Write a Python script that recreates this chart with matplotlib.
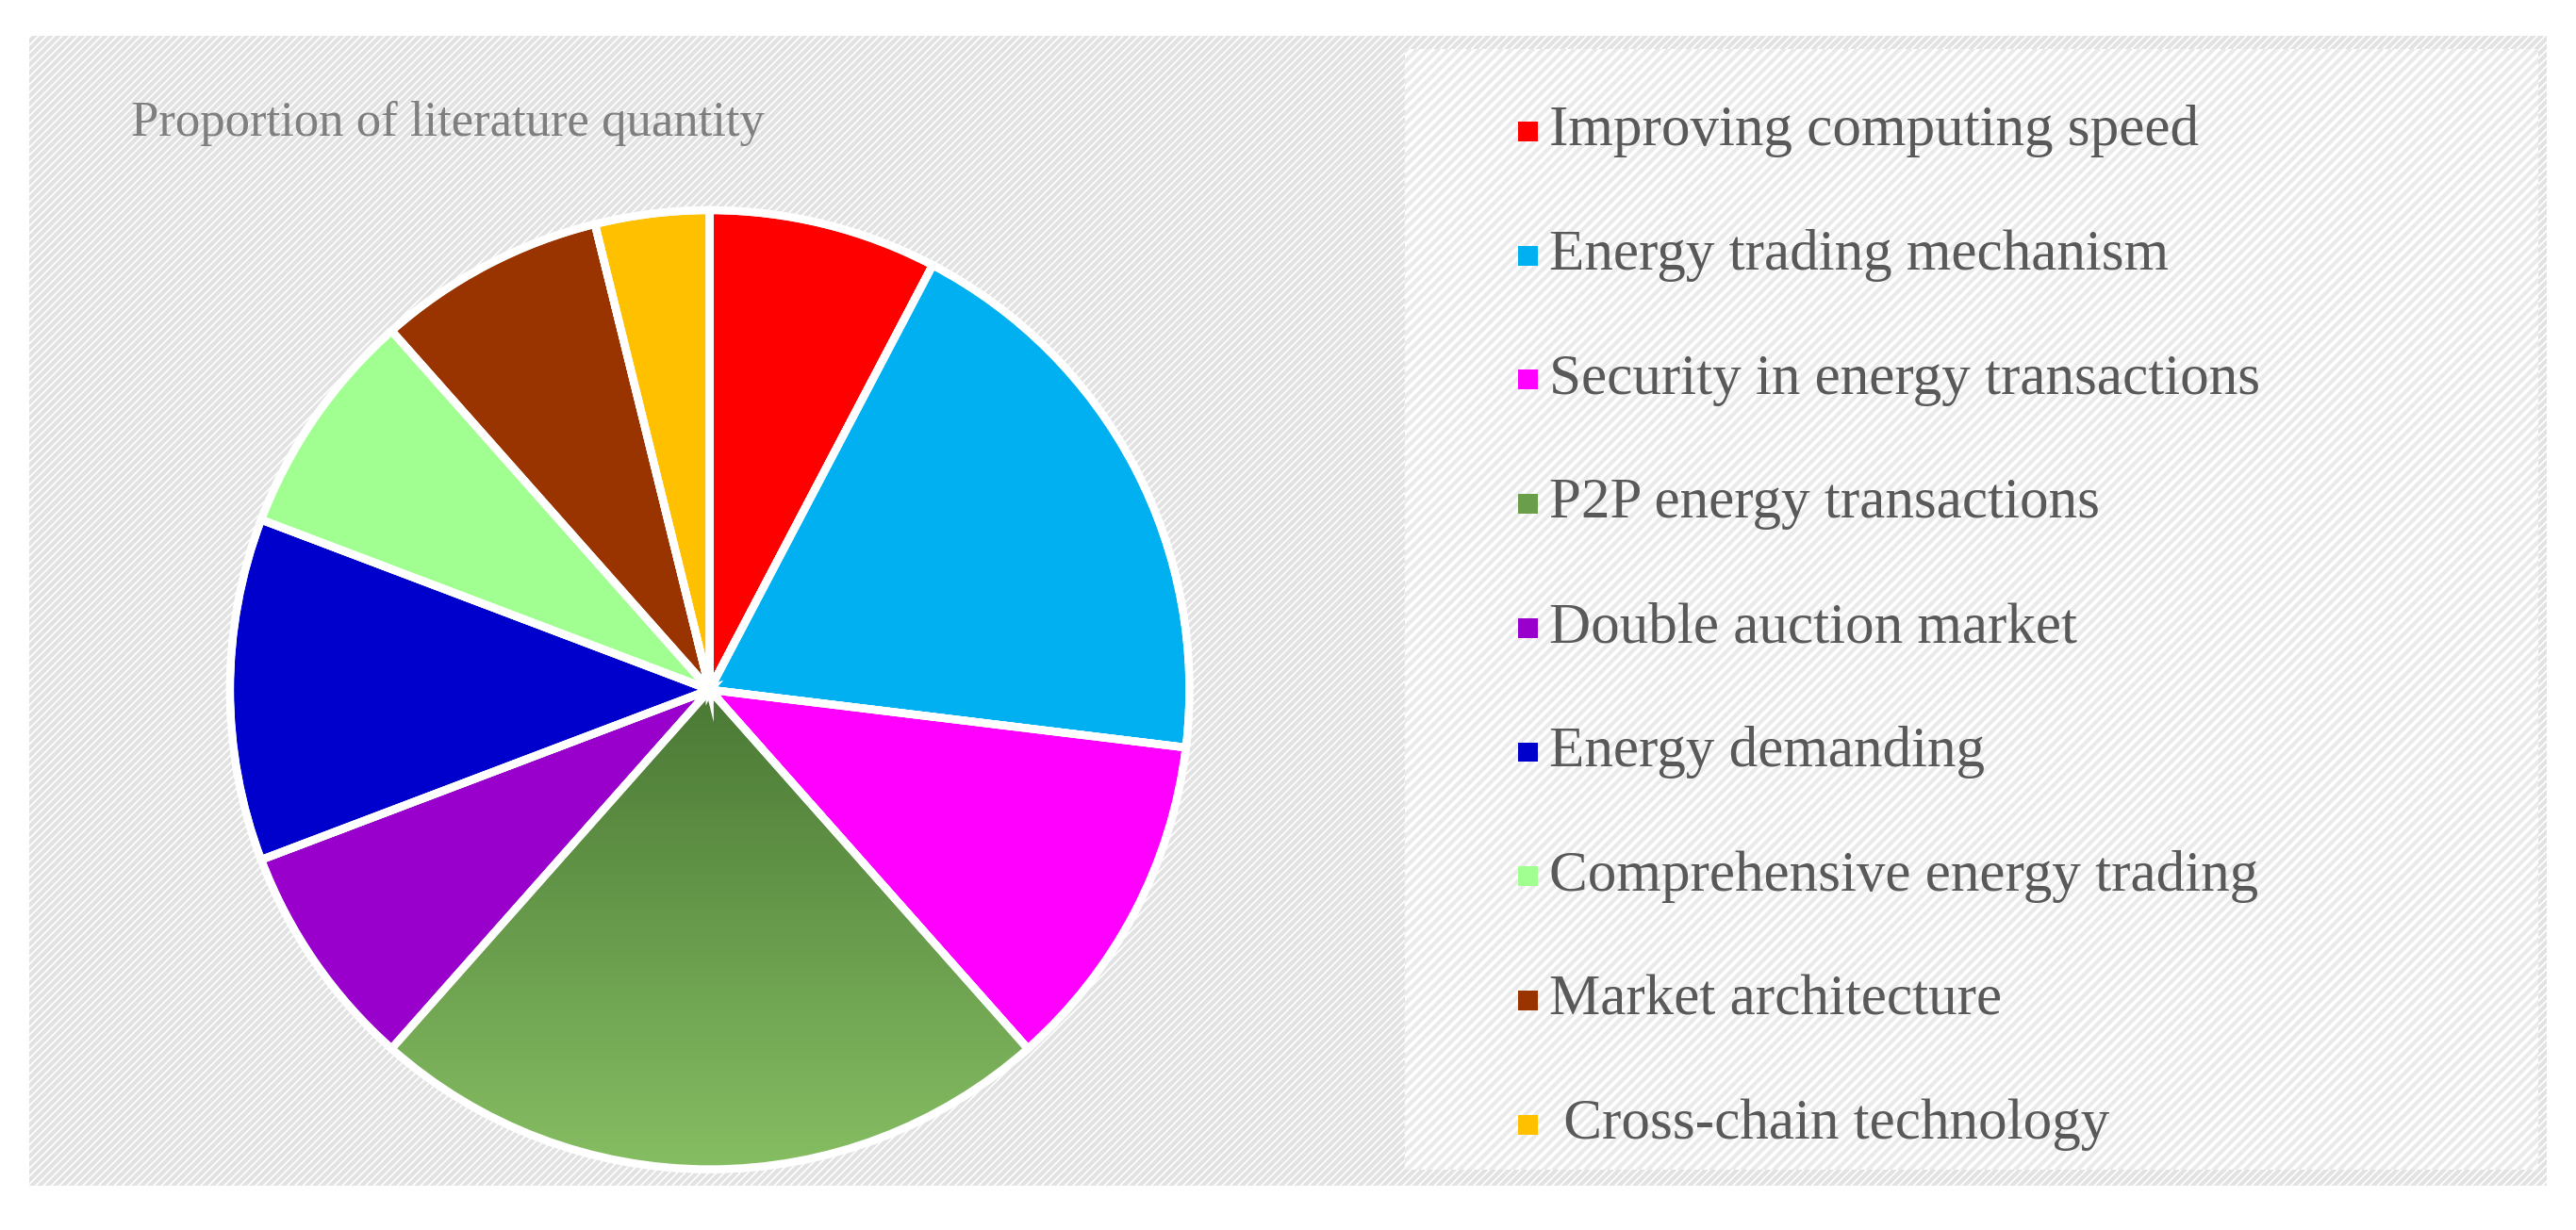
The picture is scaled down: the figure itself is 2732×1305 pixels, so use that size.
import matplotlib
matplotlib.use("Agg")
import matplotlib.pyplot as plt
import numpy as np
from matplotlib.patches import Rectangle

labels = ["Improving computing speed", "Energy trading mechanism", "Security in energy transactions",
          "P2P energy transactions", "Double auction market", "Energy demanding",
          "Comprehensive energy trading", "Market architecture", " Cross-chain technology"]
counts = [2, 5, 3, 6, 2, 3, 2, 2, 1]
colors = ["#ff0000", "#00b0f0", "#ff00ff", "#6a9e4a", "#9900cc", "#0000cc",
          "#a0ff90", "#993300", "#ffc000"]
title = "Proportion of literature quantity"

W, H = 2732, 1305
fig = plt.figure(figsize=(W/100, H/100), dpi=100)
fig.patch.set_facecolor("white")
s = 2732/1568

def fx(x): return x*s/W
def fy(y): return 1 - y*s/H

bg = fig.add_axes([0, 0, 1, 1]); bg.set_xlim(0, 1); bg.set_ylim(0, 1); bg.axis("off")
plt.rcParams["hatch.linewidth"] = 3
bg.add_patch(Rectangle((fx(18), fy(722)), fx(1550)-fx(18), fy(22)-fy(722),
                       facecolor="white", edgecolor="#e2e2e2", hatch="////", lw=0))
bg.add_patch(Rectangle((fx(855), fy(712)), fx(1545)-fx(855), fy(30)-fy(712),
                       facecolor="white", edgecolor="#eaeaea", hatch="///", lw=0))

cx, cy, r = 432*s, 420*s, 292*s
ax = fig.add_axes([(cx-r*1.05)/W, 1-(cy+r*1.05)/H, 2.1*r/W, 2.1*r/H])
wedges, _ = ax.pie(counts, colors=colors, startangle=90, counterclock=False,
                   wedgeprops=dict(edgecolor="white", linewidth=6))
ax.set_xlim(-1.05, 1.05); ax.set_ylim(-1.05, 1.05); ax.set_aspect("equal")
g = wedges[3]
grad = np.linspace(0, 1, 256).reshape(-1, 1)
from matplotlib.colors import LinearSegmentedColormap
cm = LinearSegmentedColormap.from_list("g", ["#86be63", "#477532"])
im = ax.imshow(grad, extent=[-1, 1, -1, 0.05], origin="lower", cmap=cm, aspect="auto", zorder=g.get_zorder())
im.set_clip_path(g)
# redraw white edge on top
ax.pie(counts, colors=["none"]*len(counts), startangle=90, counterclock=False,
       wedgeprops=dict(edgecolor="white", linewidth=6, fill=False))
ax.set_xlim(-1.05, 1.05); ax.set_ylim(-1.05, 1.05)

fig.text(fx(80), fy(75), title, fontsize=38, color="#7f7f7f", family="Liberation Serif", va="center")
for i, (lab, c) in enumerate(zip(labels, colors)):
    y = 80 + i*75.6
    bg.add_patch(Rectangle((fx(924), fy(y+6)), fx(12)-fx(0), fy(y-6)-fy(y+6), facecolor=c, lw=0))
    fig.text(fx(943), fy(y), lab, fontsize=44, color="#595959", family="Liberation Serif", va="center")

fig.savefig("out.png", dpi=100)
